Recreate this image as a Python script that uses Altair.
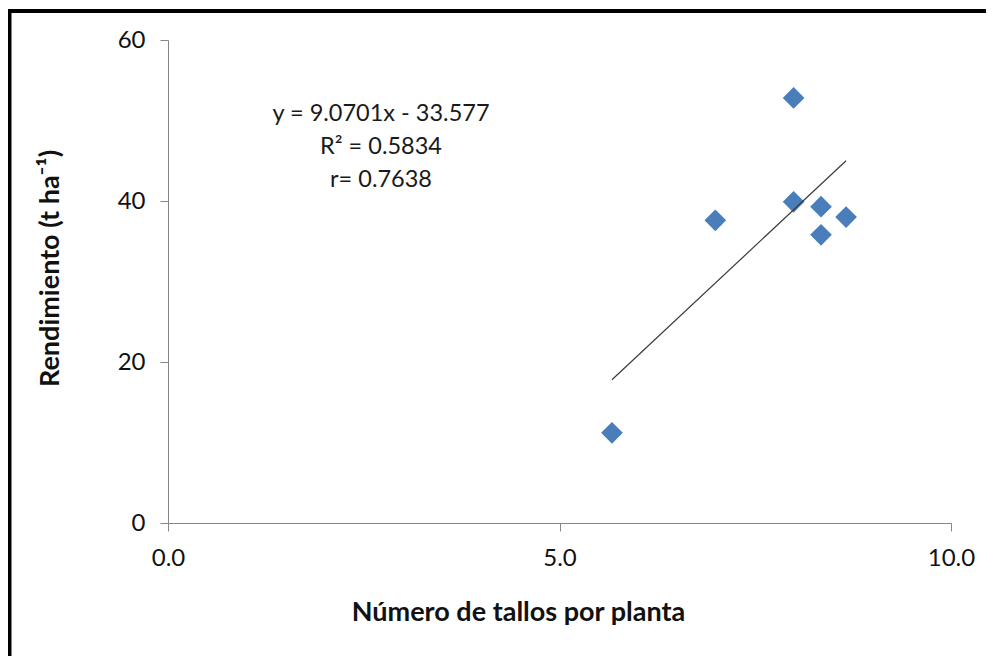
import altair as alt
import pandas as pd

# Data
tallos = [5.67, 6.99, 7.99, 7.99, 8.34, 8.34, 8.66]
rendimiento = [11.2, 37.6, 52.8, 39.9, 39.3, 35.8, 38.0]

# Trend line end points (as drawn)
trend_x = [5.67, 8.66]
trend_y = [17.8, 45.0]

annot_lines = ["y = 9.0701x - 33.577", "R\u00b2 = 0.5834", "r= 0.7638"]

x_ticks = [0, 5, 10]
y_ticks = [0, 20, 40, 60]

pts = pd.DataFrame({"x": tallos, "y": rendimiento})
trend = pd.DataFrame({"x": trend_x, "y": trend_y})
one = pd.DataFrame({"k": [0]})

FONT = "Lato"

xscale = alt.Scale(domain=[0, 10], nice=False, zero=True)
yscale = alt.Scale(domain=[0, 60], nice=False, zero=True)

xaxis = alt.Axis(
    values=x_ticks, format=".1f", title="Número de tallos por planta",
    titleX=350, titleY=89, titleBaseline="middle", titleAlign="center",
    labelFlush=False, labelOverlap=False,
)
yaxis = alt.Axis(
    values=y_ticks, format="d", title="Rendimiento (t ha\u207b\u00b9)",
    titleX=-118, titleY=228, titleBaseline="middle", titleAlign="center", titleAngle=-90,
    labelFlush=False, labelOverlap=False,
)

points = alt.Chart(pts).mark_point(
    shape="diamond", filled=True, size=470, color="#4A7EBB", opacity=1, strokeWidth=0
).encode(
    x=alt.X("x:Q", scale=xscale, axis=xaxis),
    y=alt.Y("y:Q", scale=yscale, axis=yaxis),
)

line = alt.Chart(trend).mark_line(color="#3a3a3a", strokeWidth=1.2).encode(
    x=alt.X("x:Q", scale=xscale),
    y=alt.Y("y:Q", scale=yscale),
)

text = alt.Chart(one).mark_text(
    text=annot_lines, font=FONT, fontSize=23.5, color="#1a1a1a",
    align="center", baseline="middle", lineHeight=33,
).encode(x=alt.value(213), y=alt.value(74))

border = alt.Chart(one).mark_rect(
    fill=None, fillOpacity=0, stroke="black", strokeWidth=4
).encode(
    x=alt.value(-158.5), x2=alt.value(900), y=alt.value(-29), y2=alt.value(700)
)

chart = alt.layer(border, points, line, text).properties(
    width=783, height=483,
    autosize=alt.AutoSizeParams(type="none"),
    padding={"left": 160, "top": 32, "right": 35, "bottom": 133},
).configure_view(stroke=None).configure_axis(
    grid=False,
    domainColor="#868686",
    tickColor="#868686",
    tickSize=8,
    labelFont=FONT,
    labelFontSize=24,
    labelColor="#111111",
    labelPadding=15,
    titleFont=FONT,
    titleFontSize=27,
    titleFontWeight="bold",
    titleColor="#111111",
)

chart.save("out.html", embed_options={"renderer": "svg", "actions": False})
